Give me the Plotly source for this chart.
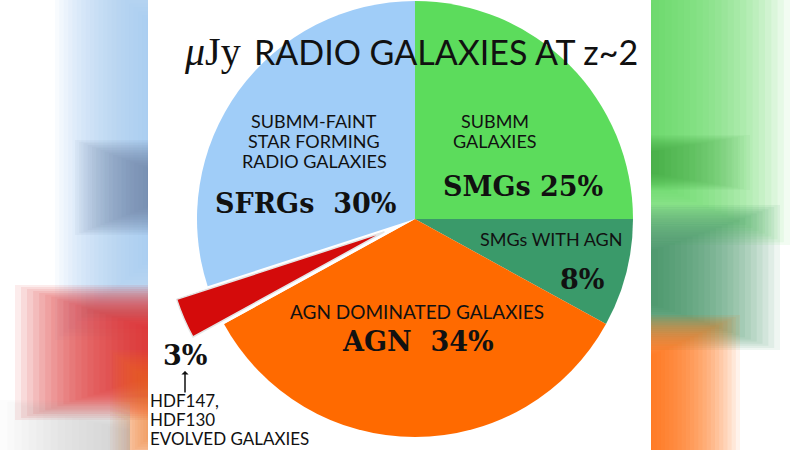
import plotly.graph_objects as go

# slices, clockwise from 12 o'clock
labels = ["SMGs", "SMGs WITH AGN", "AGN", "Evolved", "SFRGs"]
values = [25, 8, 34, 3, 30]
colors = ["#5cdc5c", "#3a9a6a", "#ff6a00", "#d40b0b", "#a0cdf8"]
pulled = "Evolved"

W, H = 800, 450


def px(x, y):
    # pixel position -> paper coords
    return x / W, 1 - y / H


def fade(x0, x1, y0, y1, color, steps=24, op=0.06, side="left", soft=0.7):
    # stack of translucent boxes to fake the blurred backdrop
    out = []
    hy = (y1 - y0) * soft / 2
    for i in range(steps):
        f = i / steps
        if side == "left":
            a, b = x0 + (x1 - x0) * f, x1
        else:
            a, b = x0, x1 - (x1 - x0) * f
        out.append(dict(type="rect", xref="paper", yref="paper", layer="below",
                        x0=a / W, x1=b / W,
                        y0=1 - (y1 - hy * f) / H, y1=1 - (y0 + hy * f) / H,
                        fillcolor=color, opacity=op, line_width=0))
    return out


shapes = []
# left blurred strip
shapes += fade(55, 160, -60, 340, "#9cc8f2", 24, 0.07, soft=0.45)
shapes += fade(75, 160, 140, 235, "#5f7f9f", 20, 0.06)
shapes += fade(15, 160, 285, 420, "#e02020", 24, 0.085)
shapes += fade(110, 160, 350, 470, "#f07020", 18, 0.07)
shapes += fade(0, 130, 400, 490, "#a8a8a8", 18, 0.04)
# right blurred strip
shapes += fade(640, 790, -60, 245, "#5cdc5c", 24, 0.08, "right", soft=0.45)
shapes += fade(640, 750, 135, 190, "#3f9f3f", 18, 0.05, "right")
shapes += fade(640, 780, 205, 350, "#33895f", 24, 0.08, "right")
shapes += fade(640, 740, 315, 500, "#ff6a00", 24, 0.08, "right", soft=0.5)

fig = go.Figure()

# main pie with the pulled slice left empty
fig.add_trace(go.Pie(
    labels=labels, values=values, sort=False, direction="clockwise",
    marker=dict(colors=[("#ffffff" if l == pulled else c) for l, c in zip(labels, colors)],
                line=dict(width=0)),
    textinfo="none", hoverinfo="label+value", showlegend=False,
    domain=dict(x=[(415 - 218) / W, (415 + 218) / W], y=[(H - 219 - 218) / H, (H - 219 + 218) / H]),
))

# same pie shifted to lower left, only the pulled slice shown
fig.add_trace(go.Pie(
    labels=labels, values=values, sort=False, direction="clockwise",
    marker=dict(colors=[(c if l == pulled else "rgba(0,0,0,0)") for l, c in zip(labels, colors)],
                line=dict(color="#e4e4e4", width=[1.5 if l == pulled else 0 for l in labels])),
    textinfo="none", hoverinfo="label+value", showlegend=False,
    domain=dict(x=[(384 - 218) / W, (384 + 218) / W], y=[(H - 232 - 218) / H, (H - 232 + 218) / H]),
))

thin = dict(family="Lato, Noto Sans, sans-serif", color="#111111")
bold = dict(family="DejaVu Serif", color="#111111", weight="bold")

notes = [
    # (x, y, text, size, font)
    (314, 121, "SUBMM-FAINT", 18, thin),
    (314, 141, "STAR FORMING", 18, thin),
    (314, 161, "RADIO GALAXIES", 18, thin),
    (305, 203, "SFRGs  30%", 27, bold),
    (495, 121, "SUBMM", 18, thin),
    (495, 141, "GALAXIES", 18, thin),
    (523, 186, "SMGs 25%", 27, bold),
    (551, 239, "SMGs WITH AGN", 18, thin),
    (582, 279, "8%", 27, bold),
    (417, 311, "AGN DOMINATED GALAXIES", 19, thin),
    (418, 341, "AGN  34%", 27, bold),
    (185, 355, "3%", 27, bold),
]
annotations = []
for x, y, t, s, f in notes:
    ax_, ay_ = px(x, y)
    annotations.append(dict(x=ax_, y=ay_, xref="paper", yref="paper", text=t, showarrow=False,
                            font=dict(size=s, **f), align="center", xanchor="center", yanchor="middle"))

# footnote for the small slice
for i, t in enumerate(["HDF147,", "HDF130", "EVOLVED GALAXIES"]):
    fx, fy = px(148, 400 + 19 * i)
    annotations.append(dict(x=fx, y=fy, xref="paper", yref="paper", text=t, showarrow=False,
                            font=dict(size=17, **thin), align="left", xanchor="left", yanchor="middle"))
ax0, ay0 = px(185, 371)
annotations.append(dict(x=ax0, y=ay0, xref="paper", yref="paper", text="", showarrow=True,
                        arrowhead=1, arrowsize=0.8, arrowwidth=1.5, arrowcolor="#111111",
                        ax=0, ay=23))

# title
tx, ty = px(212, 52)
annotations.append(dict(x=tx, y=ty, xref="paper", yref="paper", showarrow=False, text="<i>μ</i>Jy",
                        font=dict(size=40, family="Liberation Serif", color="#111111"),
                        xanchor="center", yanchor="middle"))
tx, ty = px(252, 52)
annotations.append(dict(x=tx, y=ty, xref="paper", yref="paper", showarrow=False,
                        text="RADIO GALAXIES AT z~2",
                        font=dict(size=34, **thin), xanchor="left", yanchor="middle"))

# white middle panel
shapes.append(dict(type="rect", xref="paper", yref="paper", layer="below",
                   x0=148 / W, x1=651 / W, y0=0, y1=1, fillcolor="#ffffff", line_width=0))

fig.update_layout(
    width=W, height=H,
    margin=dict(l=0, r=0, t=0, b=0),
    paper_bgcolor="#ffffff",
    shapes=shapes,
    annotations=annotations,
)

fig.write_html("out.html", config={"displayModeBar": False},
               post_script="document.body.style.margin='0';")
